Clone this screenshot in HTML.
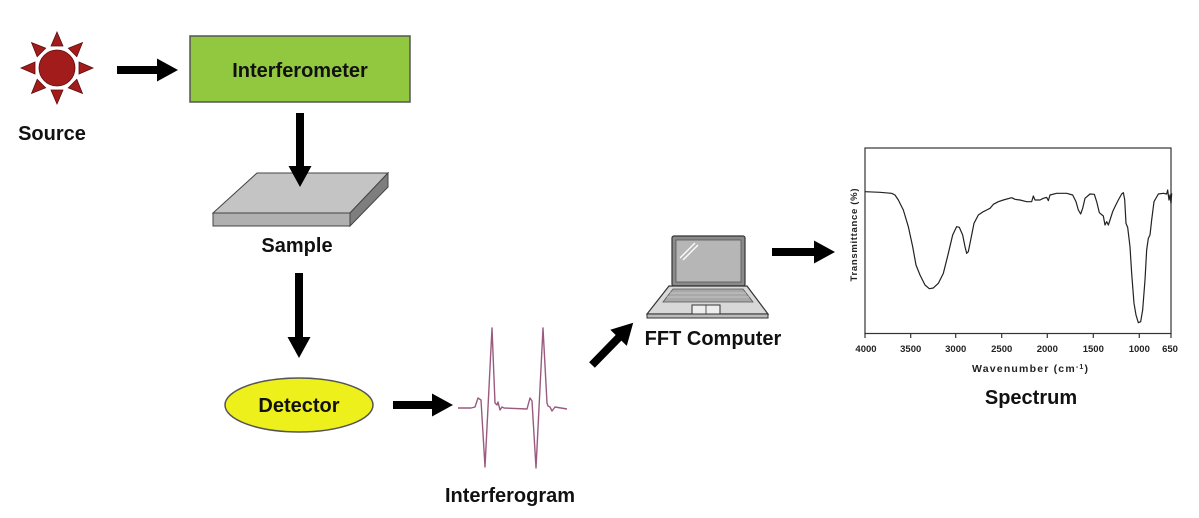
<!DOCTYPE html>
<html>
<head>
<meta charset="utf-8">
<style>
  html,body{margin:0;padding:0;background:#fff;}
  body{width:1199px;height:518px;overflow:hidden;}
  svg{display:block;}
  .lbl{font-family:"Liberation Sans",Arial,sans-serif;font-weight:bold;font-size:20px;fill:#111;text-anchor:middle;}
  .tick{font-family:"Liberation Sans",Arial,sans-serif;font-weight:bold;font-size:9.5px;fill:#222;text-anchor:middle;}
</style>
</head>
<body>
<svg width="1199" height="518" viewBox="0 0 1199 518" xmlns="http://www.w3.org/2000/svg">
  <!-- Sun -->
  <g transform="translate(57,68)" fill="#a31c1c" stroke="#5e0c0c" stroke-width="0.8">
    <g id="ray"><polygon points="22,-6 36,0 22,6"/></g>
    <polygon points="22,-6 36,0 22,6" transform="rotate(45)"/>
    <polygon points="22,-6 36,0 22,6" transform="rotate(90)"/>
    <polygon points="22,-6 36,0 22,6" transform="rotate(135)"/>
    <polygon points="22,-6 36,0 22,6" transform="rotate(180)"/>
    <polygon points="22,-6 36,0 22,6" transform="rotate(225)"/>
    <polygon points="22,-6 36,0 22,6" transform="rotate(270)"/>
    <polygon points="22,-6 36,0 22,6" transform="rotate(315)"/>
    <circle cx="0" cy="0" r="18"/>
  </g>
  <text class="lbl" x="52" y="140">Source</text>

  <!-- Interferometer -->
  <rect x="190" y="36" width="220" height="66" fill="#92c740" stroke="#555" stroke-width="1.5"/>
  <text class="lbl" x="300" y="77">Interferometer</text>

  <!-- Sample slab -->
  <polygon points="213,213 257,173 388,173 350,213" fill="#c4c4c4" stroke="#444" stroke-width="1"/>
  <polygon points="213,213 350,213 350,226 213,226" fill="#b0b0b0" stroke="#444" stroke-width="1"/>
  <polygon points="350,213 388,173 388,187 350,226" fill="#7e7e7e" stroke="#444" stroke-width="1"/>
  <text class="lbl" x="297" y="252">Sample</text>

  <!-- Detector -->
  <ellipse cx="299" cy="405" rx="74" ry="27" fill="#eef01c" stroke="#555" stroke-width="1.5"/>
  <text class="lbl" x="299" y="412">Detector</text>

  <!-- Arrows -->
  <g fill="#000">
    <polygon transform="translate(117,70)" points="0,-4 40,-4 40,-11.5 61,0 40,11.5 40,4 0,4"/>
    <polygon transform="translate(300,113) rotate(90)" points="0,-4 53,-4 53,-11.5 74,0 53,11.5 53,4 0,4"/>
    <polygon transform="translate(299,273) rotate(90)" points="0,-4 64,-4 64,-11.5 85,0 64,11.5 64,4 0,4"/>
    <polygon transform="translate(393,405)" points="0,-4 39,-4 39,-11.5 60,0 39,11.5 39,4 0,4"/>
    <polygon transform="translate(592,365) rotate(-45.7)" points="0,-4 38,-4 38,-11.5 59,0 38,11.5 38,4 0,4"/>
    <polygon transform="translate(772,252)" points="0,-4 42,-4 42,-11.5 63,0 42,11.5 42,4 0,4"/>
  </g>

  <!-- Interferogram -->
  <polyline fill="none" stroke="#9a5a7e" stroke-width="1.4" stroke-linejoin="round"
    points="458,408 471,408 475,407 478,398 481,400 485,467 492,328 495,403 497,405 498,402 500,410 502,407 504,408 527,409 530,398 532,401 536,468 543,328 547,403 548,406 550,407 552,411 555,407 567,409"/>
  <text class="lbl" x="510" y="502">Interferogram</text>

  <!-- Laptop -->
  <rect x="672" y="236" width="73" height="50" rx="2" fill="#8a8a8a" stroke="#333" stroke-width="1.2"/>
  <rect x="676" y="240" width="65" height="42" fill="#b6b6b6" stroke="#555" stroke-width="0.8"/>
  <line x1="680" y1="258" x2="695" y2="243" stroke="#fff" stroke-width="1.3"/>
  <line x1="683" y1="260" x2="698" y2="245" stroke="#fff" stroke-width="1.3"/>
  <polygon points="669,286 747,286 768,314 647,314" fill="#d8d8d8" stroke="#333" stroke-width="1.2"/>
  <polygon points="673,289 743,289 753,302 663,302" fill="#a8a8a8" stroke="#555" stroke-width="0.8"/>
  <line x1="670" y1="293" x2="746" y2="293" stroke="#d0d0d0" stroke-width="0.8"/>
  <line x1="667" y1="297" x2="749" y2="297" stroke="#d0d0d0" stroke-width="0.8"/>
  <rect x="692" y="305" width="28" height="9" fill="#eee" stroke="#333" stroke-width="1"/>
  <line x1="706" y1="305" x2="706" y2="314" stroke="#333" stroke-width="0.8"/>
  <rect x="647" y="314" width="121" height="4" fill="#bbb" stroke="#333" stroke-width="1"/>
  <text class="lbl" x="713" y="345">FFT Computer</text>

  <!-- Spectrum plot -->
  <rect x="865" y="148" width="306" height="185.5" fill="none" stroke="#333" stroke-width="1.2"/>
  <g stroke="#333" stroke-width="1.2">
    <line x1="865" y1="333" x2="865" y2="338"/>
    <line x1="910.7" y1="333" x2="910.7" y2="338"/>
    <line x1="955.7" y1="333" x2="955.7" y2="338"/>
    <line x1="1001.7" y1="333" x2="1001.7" y2="338"/>
    <line x1="1047.3" y1="333" x2="1047.3" y2="338"/>
    <line x1="1093.3" y1="333" x2="1093.3" y2="338"/>
    <line x1="1139.3" y1="333" x2="1139.3" y2="338"/>
    <line x1="1171" y1="333" x2="1171" y2="338"/>
  </g>
  <text class="tick" x="866" y="352">4000</text>
  <text class="tick" x="910.7" y="352">3500</text>
  <text class="tick" x="955.7" y="352">3000</text>
  <text class="tick" x="1001.7" y="352">2500</text>
  <text class="tick" x="1047.3" y="352">2000</text>
  <text class="tick" x="1093.3" y="352">1500</text>
  <text class="tick" x="1139.3" y="352">1000</text>
  <text class="tick" x="1170" y="352">650</text>
  <text class="tick" x="1030" y="372" style="font-size:10.5px" textLength="116" lengthAdjust="spacing">Wavenumber (cm<tspan dy="-3" style="font-size:7px">-1</tspan><tspan dy="3">)</tspan></text>
  <text class="tick" transform="translate(857,235) rotate(-90)" style="font-size:9.5px" textLength="93" lengthAdjust="spacing">Transmittance (%)</text>

  <g transform="translate(830,140) scale(0.33333)">
    <polyline fill="none" stroke="#222" stroke-width="3.6" stroke-linejoin="round"
      points="105,155 150,157 185,160 195,165 205,180 220,210 235,260 248,320 258,375 270,405 285,435 298,446 310,444 325,430 340,400 355,340 368,285 380,260 388,262 398,285 405,320 410,340 415,335 422,300 432,250 445,225 460,215 470,210 480,205 490,193 505,185 520,180 545,173 555,178 570,180 590,185 605,185 610,168 615,180 630,180 640,175 650,172 655,182 660,165 680,160 710,160 728,165 738,185 745,210 752,222 758,205 765,175 780,162 793,163 800,185 808,218 820,228 825,255 830,245 835,255 840,240 848,215 855,200 865,180 875,162 880,158 884,178 888,250 893,262 900,320 905,400 912,490 918,525 925,548 932,545 938,510 945,420 950,330 955,295 960,285 965,240 972,185 985,162 1000,160 1010,162 1013,150 1017,180 1020,165 1023,190 1025,160"/>
  </g>
  <text class="lbl" x="1031" y="404">Spectrum</text>
</svg>
</body>
</html>
